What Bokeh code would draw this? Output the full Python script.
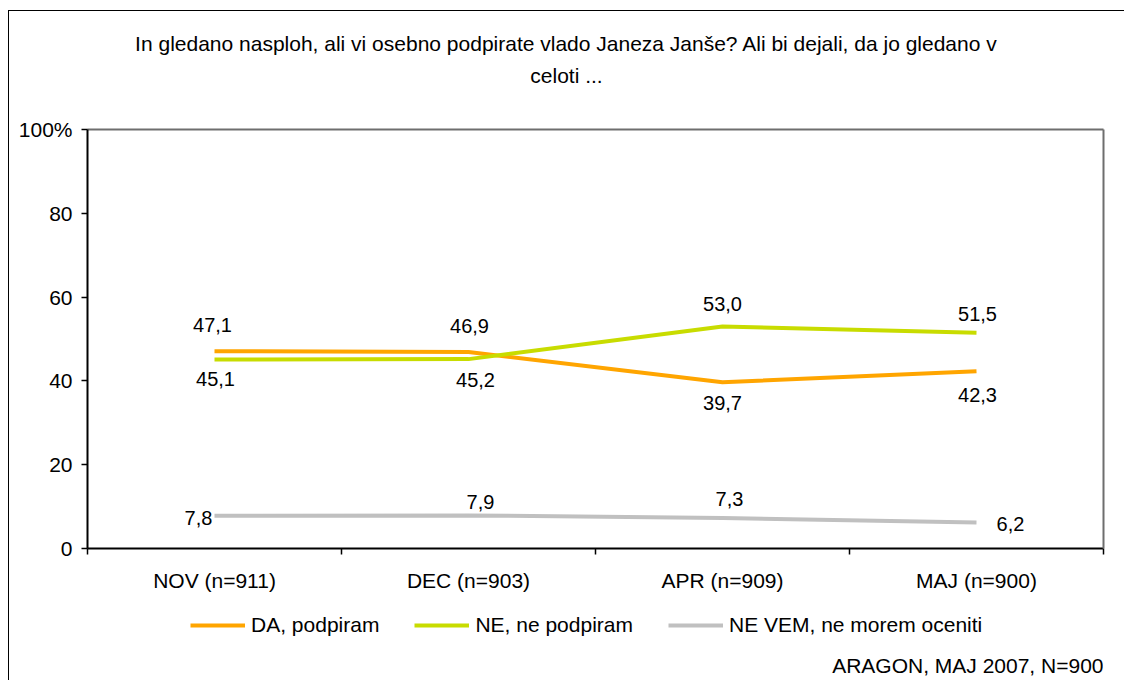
from bokeh.plotting import figure
from bokeh.layouts import column
from bokeh.models import (Range1d, FixedTicker, LinearAxis, Label, LabelSet,
                          ColumnDataSource, Legend, LegendItem)
from bokeh.core.properties import value
from bokeh.embed import file_html
from bokeh.resources import INLINE

FONT = "Liberation Sans"

# ---- data ----
categories = ["NOV (n=911)", "DEC (n=903)", "APR (n=909)", "MAJ (n=900)"]
series_names = ["DA, podpiram", "NE, ne podpiram", "NE VEM, ne morem oceniti"]
da_values = [47.1, 46.9, 39.7, 42.3]
ne_values = [45.1, 45.2, 53.0, 51.5]
nevem_values = [7.8, 7.9, 7.3, 6.2]
y_ticks = [0, 20, 40, 60, 80, 100]
y_tick_labels = ["0", "20", "40", "60", "80", "100%"]
title_lines = ["In gledano nasploh, ali vi osebno podpirate vlado Janeza Janše? Ali bi dejali, da jo gledano v",
               "celoti ..."]
footer = "ARAGON, MAJ 2007, N=900"

colors = ["#FFA500", "#C8DC00", "#C0C0C0"]
series = [da_values, ne_values, nevem_values]

# label placement (screen pixel offsets, per point)
label_offsets = [
    ([-2, 1, 0, 1], [26, 26, -21, -24]),
    ([1, 7, 0, 1], [-19, -21, 22, 19]),
    ([-16, 12, 7, 34], [-2, 13, 19, -1]),
]

W = 1115
ML, MR = 78, 21  # frame margins shared by all stacked figures


def strip(height, y_top):
    # frame spans the page pixels [87, 1103] horizontally; y in page pixels
    f = figure(width=W, height=height, output_backend="svg", toolbar_location=None,
               x_range=Range1d(87, 1103), y_range=Range1d(y_top + height, y_top),
               x_axis_type=None, y_axis_type=None,
               min_border_left=ML, min_border_right=MR, min_border_top=0, min_border_bottom=0)
    f.outline_line_color = None
    f.xgrid.visible = False
    f.ygrid.visible = False
    f.background_fill_color = "white"
    f.border_fill_color = "white"
    return f


# ---- title strip ----
top = strip(104, 11)
top.add_layout(Label(x=566, y=43, text=title_lines[0], text_align="center", text_baseline="middle",
                     text_font=FONT, text_font_size="21px", text_color="black"))
top.add_layout(Label(x=566, y=75, text=title_lines[1], text_align="center", text_baseline="middle",
                     text_font=FONT, text_font_size="21px", text_color="black"))

# ---- main chart ----
p = figure(width=W, height=487, output_backend="svg", toolbar_location=None,
           x_range=Range1d(0, 4), y_range=Range1d(0, 100),
           x_axis_type=None, y_axis_type=None,
           min_border_left=ML, min_border_top=14, min_border_right=MR, min_border_bottom=54)
p.background_fill_color = "white"
p.border_fill_color = "white"
p.outline_line_color = None

xs = [i + 0.5 for i in range(len(categories))]

xaxis = LinearAxis(ticker=FixedTicker(ticks=xs, minor_ticks=list(range(len(categories) + 1))))
xaxis.major_label_overrides = {x: c for x, c in zip(xs, categories)}
xaxis.major_tick_out = 0
xaxis.major_tick_in = 0
xaxis.minor_tick_out = 6
xaxis.minor_tick_in = 0
xaxis.minor_tick_line_color = "black"
xaxis.minor_tick_line_width = 1.5
xaxis.axis_line_color = "black"
xaxis.axis_line_width = 2
xaxis.major_label_standoff = 14
xaxis.major_label_text_font = FONT
xaxis.major_label_text_font_size = "21px"
xaxis.major_label_text_color = "black"
p.add_layout(xaxis, "below")

yaxis = LinearAxis(ticker=FixedTicker(ticks=y_ticks, minor_ticks=[]))
yaxis.major_label_overrides = {t: l for t, l in zip(y_ticks, y_tick_labels)}
yaxis.major_tick_out = 6
yaxis.major_tick_in = 0
yaxis.major_tick_line_color = "black"
yaxis.major_tick_line_width = 1.5
yaxis.minor_tick_out = 0
yaxis.minor_tick_in = 0
yaxis.axis_line_color = "black"
yaxis.axis_line_width = 2
yaxis.major_label_standoff = 9
yaxis.major_label_text_font = FONT
yaxis.major_label_text_font_size = "21px"
yaxis.major_label_text_color = "black"
p.add_layout(yaxis, "left")

# plain frame edges on top and right (no ticks, no labels)
for side in ("above", "right"):
    edge = LinearAxis(ticker=FixedTicker(ticks=[], minor_ticks=[]))
    edge.major_tick_out = 0
    edge.major_tick_in = 0
    edge.minor_tick_out = 0
    edge.minor_tick_in = 0
    edge.major_label_text_font_size = "0px"
    edge.major_label_standoff = 0
    edge.axis_line_color = "#6E6E6E"
    edge.axis_line_width = 2
    p.add_layout(edge, side)

p.ygrid.ticker = FixedTicker(ticks=y_ticks)
p.ygrid.grid_line_color = "#C4C4C4"
p.ygrid.grid_line_width = 2
p.xgrid.visible = False

for name, vals, col, (xo, yo) in zip(series_names, series, colors, label_offsets):
    p.line(xs, vals, line_color=col, line_width=4)
    src = ColumnDataSource(dict(x=xs, y=vals, t=[f"{v:.1f}".replace(".", ",") for v in vals], xo=xo, yo=yo))
    p.add_layout(LabelSet(x="x", y="y", text="t", source=src, x_offset="xo", y_offset="yo",
                          text_align="center", text_baseline="middle",
                          text_font=value(FONT), text_font_size="20px", text_color="black"))

# ---- legend + source strip ----
bot = strip(78, 602)
items = []
for name, vals, col in zip(series_names, series, colors):
    r = bot.line(xs, vals, line_color=col, line_width=4, visible=False)
    items.append(LegendItem(label=name, renderers=[r]))
legend = Legend(items=items, orientation="horizontal", location=(103, 43),
                glyph_width=55, glyph_height=20, label_height=20, label_standoff=6,
                spacing=35, padding=0, margin=0, border_line_color=None,
                background_fill_alpha=0, label_text_font=FONT, label_text_font_size="21px",
                label_text_color="black")
bot.add_layout(legend, "center")
bot.add_layout(Label(x=1103, y=665, text=footer, text_align="right", text_baseline="middle",
                     text_font=FONT, text_font_size="21px", text_color="black"))

layout = column(top, p, bot, spacing=0)
layout.styles = {"margin-left": "8px", "margin-top": "10px",
                 "border-left": "1px solid black", "border-top": "1px solid black"}

open("out.html", "w").write(file_html(layout, INLINE))
